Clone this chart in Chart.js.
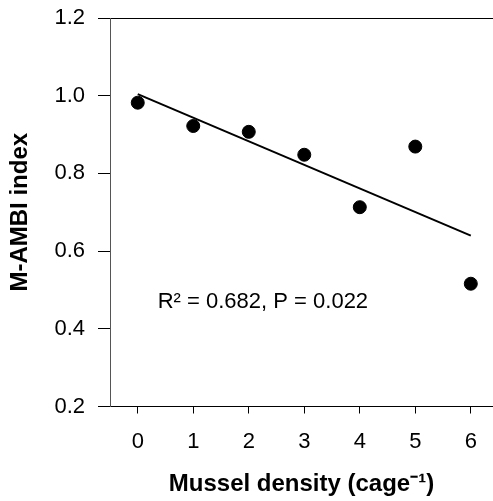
<html>
  <head>
    <script src="https://cdn.jsdelivr.net/npm/chart.js"></script>
    <style>
      body { margin: 0; background: #fff; }
      #wrap { width: 493px; height: 501px; }
    </style>
  </head>
  <body>
    <div id="wrap"><canvas id="graph-ambi" width="493" height="501"></canvas></div>
    <script>
      // data
      var densities = [0, 1, 2, 3, 4, 5, 6];
      var mAmbi = [0.982, 0.922, 0.907, 0.848, 0.713, 0.869, 0.516];
      // regression line end points
      var fitX = [0, 6];
      var fitY = [1.004, 0.640];
      var xTicks = [0, 1, 2, 3, 4, 5, 6];
      var yTicks = [0.2, 0.4, 0.6, 0.8, 1.0, 1.2];
      var statText = "R\u00B2 = 0.682, P = 0.022";
      var statPos = { x: 0.36, y: 0.453 };

      var fontFam = "'Liberation Sans', Arial, sans-serif";

      var statsPlugin = {
        id: 'stats',
        afterDatasetsDraw: function (chart) {
          var ctx = chart.ctx;
          var px = chart.scales.x.getPixelForValue(statPos.x);
          var py = chart.scales.y.getPixelForValue(statPos.y);
          ctx.save();
          ctx.fillStyle = '#000';
          ctx.font = '22px ' + fontFam;
          ctx.textBaseline = 'alphabetic';
          ctx.textAlign = 'left';
          ctx.fillText(statText, px, py);
          ctx.restore();
        }
      };

      var points = densities.map(function (d, i) { return { x: d, y: mAmbi[i] }; });
      var fit = fitX.map(function (d, i) { return { x: d, y: fitY[i] }; });

      var ctx = document.getElementById('graph-ambi').getContext('2d');
      var chart = new Chart(ctx, {
        type: 'scatter',
        data: {
          datasets: [{
            label: 'fit',
            type: 'line',
            data: fit,
            borderColor: '#000',
            borderWidth: 2,
            pointRadius: 0,
            fill: false,
            tension: 0
          }, {
            label: 'M-AMBI',
            data: points,
            backgroundColor: '#000',
            borderColor: '#000',
            pointRadius: 6.5,
            pointHoverRadius: 6.5
          }]
        },
        options: {
          responsive: false,
          animation: false,
          events: [],
          layout: { autoPadding: false, padding: { top: 18, right: 0, left: 0, bottom: 0 } },
          plugins: { legend: { display: false }, tooltip: { enabled: false } },
          scales: {
            x: {
              type: 'linear',
              position: 'bottom',
              min: -0.5,
              max: 6.4,
              afterBuildTicks: function (s) { s.ticks = xTicks.map(function (v) { return { value: v }; }); },
              afterFit: function (s) { s.height = 94.5; s.paddingLeft = 0; s.paddingRight = 0; },
              border: { display: true, color: '#000', width: 1 },
              grid: { drawOnChartArea: false, drawTicks: true, tickLength: 7, color: '#000', tickColor: '#000' },
              ticks: { color: '#000', padding: 15, maxRotation: 0, font: { family: fontFam, size: 22 } },
              title: {
                display: true,
                text: 'Mussel density (cage\u207B\u00B9)',
                color: '#000',
                padding: { top: 0, bottom: 2 },
                font: { family: fontFam, size: 24, weight: 'bold' }
              }
            },
            xTop: {
              type: 'linear',
              position: 'top',
              min: -0.5,
              max: 6.4,
              afterFit: function (s) { s.height = 0; s.paddingLeft = 0; s.paddingRight = 0; },
              border: { display: true, color: '#000', width: 1 },
              grid: { display: false },
              ticks: { display: false }
            },
            y: {
              min: 0.2,
              max: 1.2,
              afterBuildTicks: function (s) { s.ticks = yTicks.map(function (v) { return { value: v }; }); },
              afterFit: function (s) { s.width = 110; s.paddingTop = 0; s.paddingBottom = 0; },
              border: { display: true, color: '#555', width: 1 },
              grid: { drawOnChartArea: false, drawTicks: true, tickLength: 12, color: '#000', tickColor: '#000' },
              ticks: {
                color: '#000',
                padding: 13,
                font: { family: fontFam, size: 22 },
                callback: function (v) { return v.toFixed(1); }
              },
              title: {
                display: true,
                text: 'M-AMBI index',
                color: '#000',
                padding: { top: 6, bottom: 0 },
                font: { family: fontFam, size: 24, weight: 'bold' }
              }
            }
          }
        },
        plugins: [statsPlugin]
      });
    </script>
  </body>
</html>
